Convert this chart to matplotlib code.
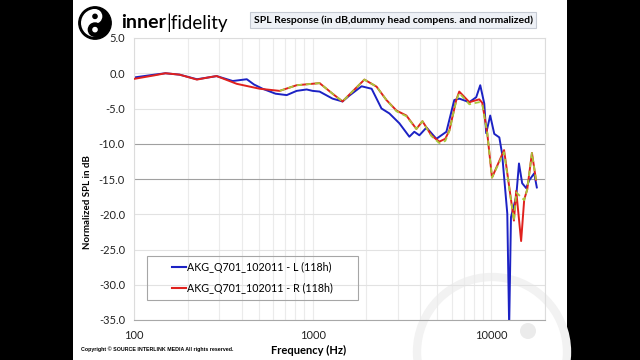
import numpy as np
import matplotlib
matplotlib.use('Agg')
import matplotlib.pyplot as plt
from matplotlib.patches import Rectangle, Circle, Wedge, Ellipse
from matplotlib.lines import Line2D
from matplotlib.ticker import NullFormatter

plt.rcParams['font.family'] = ['Lato', 'DejaVu Sans']
plt.rcParams['axes.unicode_minus'] = False

# --- data ---
freq_L = [100, 130, 150, 180, 225, 260, 290, 357, 428, 470, 525, 620, 716, 814, 926, 1000, 1094,
          1293, 1470, 1600, 1880, 2140, 2430, 2690, 3060, 3480, 3710, 3960, 4340, 4930, 5610,
          6210, 6620, 7540, 8240, 8680, 9140, 9370, 9870, 10400, 11100, 11500, 12300, 12600,
          12900, 13800, 14300, 14900, 15700, 16300, 17400, 18000]
spl_L = [-0.6, -0.2, 0.0, -0.2, -0.85, -0.6, -0.4, -1.1, -0.85, -1.6, -2.2, -2.9, -3.1, -2.5, -2.3, -2.5, -2.6,
         -3.6, -4.0, -3.2, -1.85, -2.2, -5.0, -5.7, -7.1, -9.0, -8.3, -8.8, -7.7, -9.3, -8.3,
         -3.8, -3.6, -4.1, -3.4, -1.7, -4.3, -8.5, -6.0, -8.6, -9.1, -11.4, -19.9, -36.0,
         -20.4, -17.5, -12.8, -15.6, -16.3, -15.2, -14.2, -16.2]

freq_R = [100, 130, 150, 180, 225, 260, 290, 376, 506, 654, 814, 1094, 1293, 1470, 1950, 2280, 2590,
          2950, 3350, 3810, 4120, 4620, 5120, 5530, 5830, 6370, 6620, 7540, 8570, 8910, 9500,
          10100, 11800, 13400, 13800, 14700, 15300, 15900, 16900, 17800]
spl_R = [-0.8, -0.3, 0.0, -0.2, -0.9, -0.6, -0.4, -1.5, -2.2, -2.5, -1.7, -1.4, -2.9, -4.0, -0.9, -1.9, -3.8,
         -5.3, -6.0, -7.9, -6.8, -8.8, -9.7, -9.3, -8.1, -3.8, -2.6, -4.1, -3.7, -4.2, -8.5,
         -14.8, -10.9, -20.9, -16.7, -23.8, -17.9, -16.5, -11.3, -15.1]

# third (unlabelled) trace under the R curve
freq_G = [654, 814, 1094, 1293, 1470, 1950, 2280, 2590, 2950, 3350, 3810, 4120, 4620, 5120, 5530,
          5830, 6370, 6620, 7540, 8570, 8910, 9500, 10100, 11800, 13400, 13800, 15300, 15900,
          16900, 17800]
spl_G = [-2.5, -1.7, -1.4, -2.9, -4.0, -0.9, -1.9, -3.8, -5.4, -6.1, -7.9, -6.8, -8.9, -9.9, -9.6,
         -8.2, -3.9, -2.8, -4.4, -4.1, -4.4, -8.5, -14.8, -11.2, -20.9, -16.9, -18.0, -16.5,
         -11.3, -15.1]

labels = ['AKG_Q701_102011 - L (118h)', 'AKG_Q701_102011 - R (118h)']
yticks = np.arange(-35, 5.1, 5)
xticks = [100, 1000, 10000]

c_L = '#1c22c4'
c_R = '#e0211d'
c_G = '#a9c83a'

W, H = 640, 360
fig = plt.figure(figsize=(6.4, 3.6), dpi=100, facecolor='black')
# white slide area between the black bars
fig.patches.append(Rectangle((73 / W, 0), (567 - 73) / W, 1, transform=fig.transFigure,
                             facecolor='white', edgecolor='none', zorder=-10))
# faint watermark bottom right
fig.patches.append(Ellipse((492 / W, 1 - 352 / H), 150 / W, 150 / H, transform=fig.transFigure,
                           fill=False, edgecolor='#f2f2f2', lw=6, zorder=-5))
fig.patches.append(Ellipse((528 / W, 1 - 331 / H), 16 / W, 16 / H, transform=fig.transFigure,
                           facecolor='#ebebeb', edgecolor='none', zorder=-5))

ax = fig.add_axes([134 / W, 1 - 320 / H, (545 - 134) / W, (320 - 38) / H])
ax.set_facecolor('none')

ax.plot(freq_L, spl_L, color=c_L, lw=1.4, zorder=2)
ax.plot(freq_R, spl_R, color=c_R, lw=1.4, zorder=3)
ax.plot(freq_G, spl_G, color=c_G, lw=1.3, ls=(0, (3, 2)), zorder=4)

ax.set_xscale('log')
ax.set_xlim(100, 20000)
ax.set_ylim(-35, 5)
ax.set_xticks(xticks)
ax.set_xticklabels([str(t) for t in xticks])
ax.xaxis.set_minor_formatter(NullFormatter())
ax.set_yticks(yticks)
ax.set_yticklabels(['%.1f' % t for t in yticks])
ax.tick_params(axis='both', which='both', length=0, labelsize=8, colors='#222222')
ax.tick_params(axis='x', pad=7)
ax.tick_params(axis='y', pad=6.5)

ax.grid(True, axis='y', color='#e2e2e2', lw=0.8)
ax.grid(True, axis='x', which='both', color='#ebebeb', lw=0.8)
for t, gl in zip(yticks, ax.yaxis.get_gridlines()):
    if t in (-10, -15):
        gl.set_color('#a0a0a0')
ax.set_axisbelow(True)
for s in ax.spines.values():
    s.set_color('#dcdcdc')
    s.set_linewidth(0.8)
ax.spines['bottom'].set_color('#a8a8a8')

# legend
handles = [Line2D([], [], color=c_L, lw=1.5), Line2D([], [], color=c_R, lw=1.5)]
ax.legend(handles, labels, loc='center', bbox_to_anchor=(0.288, 0.149), frameon=False,
          fontsize=7.7, handlelength=1.3, handletextpad=0.15, labelspacing=0.95)
ax.add_patch(Rectangle((0.0316, 0.0709), 0.5134, 0.156, transform=ax.transAxes,
                       fill=False, edgecolor='#a6a6a6', lw=0.8, zorder=5))

# labels and title
fig.text(88 / W, 1 - 202 / H, 'Normalized SPL in dB', rotation=90, ha='center', va='center',
         fontsize=7, fontweight='bold')
fig.text(309 / W, 1 - 350 / H, 'Frequency (Hz)', ha='center', va='center',
         fontsize=8, fontweight='bold')
fig.text(393 / W, 1 - 20 / H, 'SPL Response (in dB,dummy head compens. and normalized)',
         ha='center', va='center', fontsize=7.5, fontweight='bold',
         bbox=dict(boxstyle='square,pad=0.35', fc='#eef1f6', ec='#c5cad3', lw=0.8))
fig.text(81 / W, 1 - 349 / H, 'Copyright \u00a9 SOURCE INTERLINK MEDIA All rights reserved.',
         fontsize=3.8, fontweight='bold', family='Liberation Sans', va='center')

# logo
fig.text(121 / W, 1 - 23 / H, 'inner', fontsize=14, fontweight='bold', va='center', ha='left')
fig.text(166 / W, 1 - 23 / H, '|fidelity', fontsize=13.5, va='center', ha='left')
lax = fig.add_axes([78 / W, 1 - 40 / H, 34 / W, 34 / H])
lax.set_xlim(-1.05, 1.05)
lax.set_ylim(-1.05, 1.05)
lax.set_aspect('equal')
lax.axis('off')
lax.add_patch(Circle((0, 0), 1, color='black'))
lax.add_patch(Wedge((0, 0), 0.82, 90, 270, color='white'))
lax.add_patch(Circle((0, 0.41), 0.41, color='white'))
lax.add_patch(Circle((0, -0.41), 0.41, color='black'))
lax.add_patch(Circle((0, 0.41), 0.13, color='black'))
lax.add_patch(Circle((0, -0.41), 0.13, color='white'))

fig.savefig('out.png', dpi=100, facecolor='black')
